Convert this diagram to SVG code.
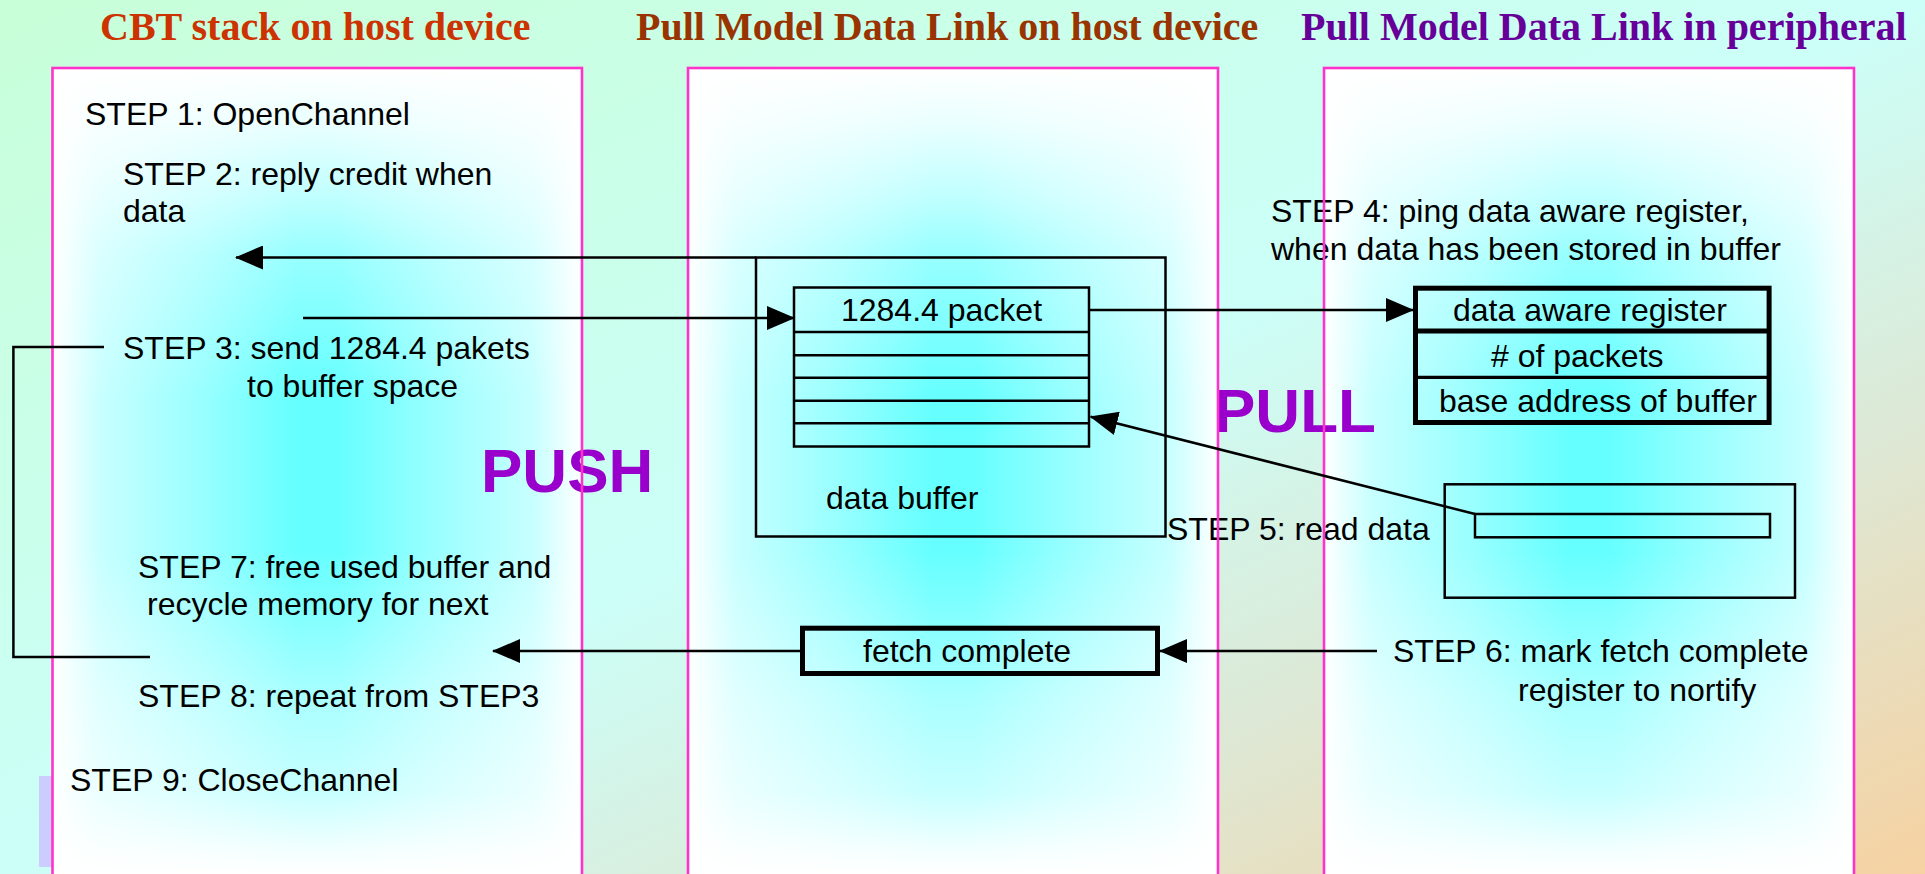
<svg xmlns="http://www.w3.org/2000/svg" width="1925" height="874" viewBox="0 0 1925 874">
  <defs>
    <linearGradient id="bg" x1="0" y1="0" x2="1" y2="1">
      <stop offset="0" stop-color="#c8ffd8"/>
      <stop offset="0.5" stop-color="#ccfff8"/>
      <stop offset="0.74" stop-color="#dde8d5"/>
      <stop offset="1" stop-color="#f6d2a2"/>
    </linearGradient>
    <linearGradient id="laneH" x1="0" y1="0" x2="1" y2="0">
      <stop offset="0" stop-color="#ffffff"/>
      <stop offset="0.09" stop-color="#c8ffff"/>
      <stop offset="0.28" stop-color="#99ffff"/>
      <stop offset="0.46" stop-color="#66ffff"/>
      <stop offset="0.54" stop-color="#66ffff"/>
      <stop offset="0.72" stop-color="#99ffff"/>
      <stop offset="0.91" stop-color="#c8ffff"/>
      <stop offset="1" stop-color="#ffffff"/>
    </linearGradient>
    <linearGradient id="laneV" x1="0" y1="0" x2="0" y2="1">
      <stop offset="0" stop-color="#ffffff" stop-opacity="1"/>
      <stop offset="0.07" stop-color="#ffffff" stop-opacity="0.86"/>
      <stop offset="0.16" stop-color="#ffffff" stop-opacity="0.59"/>
      <stop offset="0.23" stop-color="#ffffff" stop-opacity="0.33"/>
      <stop offset="0.41" stop-color="#ffffff" stop-opacity="0"/>
      <stop offset="0.6" stop-color="#ffffff" stop-opacity="0"/>
      <stop offset="0.78" stop-color="#ffffff" stop-opacity="0.44"/>
      <stop offset="0.9" stop-color="#ffffff" stop-opacity="0.64"/>
      <stop offset="0.97" stop-color="#ffffff" stop-opacity="0.92"/>
      <stop offset="1" stop-color="#ffffff" stop-opacity="1"/>
    </linearGradient>
    <marker id="arrow" viewBox="0 0 28 24" refX="27" refY="12" markerWidth="28" markerHeight="24" markerUnits="userSpaceOnUse" orient="auto">
      <path d="M0,0 L28,12 L0,24 z" fill="#000"/>
    </marker>
    <style>
      .title { font-family: "Liberation Serif", "Times New Roman", serif; font-weight: bold; font-size: 40px; }
      .t { font-family: "Liberation Sans", Arial, sans-serif; font-size: 32px; fill: #000; }
      .big { font-family: "Liberation Sans", Arial, sans-serif; font-weight: bold; font-size: 62px; fill: #9900cc; }
      .laneFill { stroke: none; }
      .laneBorder { fill: none; stroke: #ff33cc; stroke-width: 2.6; }
      .ln { fill: none; stroke: #000; stroke-width: 2.5; }
      .thick { fill: none; stroke: #000; stroke-width: 5; }
      .arr { fill: none; stroke: #000; stroke-width: 2.5; marker-end: url(#arrow); }
    </style>
  </defs>

  <rect x="0" y="0" width="1925" height="874" fill="url(#bg)"/>

  <!-- small lavender block bottom-left -->
  <rect x="39" y="776" width="30" height="91" fill="#ccccff"/>

  <!-- lane fills -->
  <g id="lane-cbt">
    <rect class="laneFill" x="52.5" y="68" width="529.5" height="806" fill="url(#laneH)"/>
    <rect class="laneFill" x="52.5" y="68" width="529.5" height="806" fill="url(#laneV)"/>
  </g>
  <g id="lane-host-link">
    <rect class="laneFill" x="688" y="68" width="530" height="806" fill="url(#laneH)"/>
    <rect class="laneFill" x="688" y="68" width="530" height="806" fill="url(#laneV)"/>
  </g>
  <g id="lane-peripheral">
    <rect class="laneFill" x="1324" y="68" width="530" height="806" fill="url(#laneH)"/>
    <rect class="laneFill" x="1324" y="68" width="530" height="806" fill="url(#laneV)"/>
  </g>

  <!-- titles -->
  <g id="titles">
    <text class="title" x="100" y="40" fill="#cc3300">CBT stack on host device</text>
    <text class="title" x="636" y="40" fill="#993300">Pull Model Data Link on host device</text>
    <text class="title" x="1301" y="40" fill="#660099">Pull Model Data Link in peripheral</text>
  </g>

  <!-- PUSH / PULL -->
  <g id="labels-push-pull">
    <text class="big" x="481" y="492">PUSH</text>
    <text class="big" x="1214" y="432">PULL</text>
  </g>

  <!-- step texts -->
  <g id="steps">
    <text class="t" x="85" y="125">STEP 1: OpenChannel</text>
    <text class="t" x="123" y="185">STEP 2: reply credit when</text>
    <text class="t" x="123" y="222">data</text>
    <text class="t" x="123" y="359">STEP 3: send 1284.4 pakets</text>
    <text class="t" x="247" y="397">to buffer space</text>
    <text class="t" x="138" y="578">STEP 7: free used buffer and</text>
    <text class="t" x="147" y="615">recycle memory for next</text>
    <text class="t" x="138" y="707">STEP 8: repeat from STEP3</text>
    <text class="t" x="70" y="791">STEP 9: CloseChannel</text>
    <text class="t" x="1271" y="222">STEP 4: ping data aware register,</text>
    <text class="t" x="1271" y="260">when data has been stored in buffer</text>
    <text class="t" x="1167" y="540">STEP 5: read data</text>
    <text class="t" x="1393" y="662">STEP 6: mark fetch complete</text>
    <text class="t" x="1518" y="701">register to nortify</text>
  </g>

  <!-- lane borders -->
  <g id="lane-borders">
    <rect class="laneBorder" x="52.5" y="68" width="529.5" height="830"/>
    <rect class="laneBorder" x="688" y="68" width="530" height="830"/>
    <rect class="laneBorder" x="1324" y="68" width="530" height="830"/>
  </g>

  <!-- data buffer on host -->
  <g id="data-buffer">
    <rect class="ln" x="756" y="257.5" width="409.5" height="279"/>
    <rect class="ln" x="794" y="287.5" width="295" height="159"/>
    <line class="ln" x1="794" y1="332" x2="1089" y2="332"/>
    <line class="ln" x1="794" y1="355.3" x2="1089" y2="355.3"/>
    <line class="ln" x1="794" y1="377.7" x2="1089" y2="377.7"/>
    <line class="ln" x1="794" y1="400.7" x2="1089" y2="400.7"/>
    <line class="ln" x1="794" y1="423.3" x2="1089" y2="423.3"/>
    <text class="t" x="941.5" y="321" text-anchor="middle">1284.4 packet</text>
    <text class="t" x="826" y="509">data buffer</text>
  </g>

  <!-- data aware register -->
  <g id="register">
    <rect class="thick" x="1415.5" y="288.2" width="353.6" height="134.3"/>
    <line class="thick" x1="1415.5" y1="331" x2="1769.1" y2="331"/>
    <line class="ln" x1="1415.5" y1="377.3" x2="1769.1" y2="377.3" style="stroke-width:3.2"/>
    <text class="t" x="1453" y="321">data aware register</text>
    <text class="t" x="1491" y="367"># of packets</text>
    <text class="t" x="1439" y="412">base address of buffer</text>
  </g>

  <!-- peripheral buffer -->
  <g id="peripheral-buffer">
    <rect class="ln" x="1444.7" y="484.3" width="350.3" height="113.4"/>
    <rect class="ln" x="1475" y="514" width="295" height="23.3"/>
  </g>

  <!-- fetch complete -->
  <g id="fetch-complete">
    <rect class="thick" x="802.5" y="628.2" width="355" height="45.3"/>
    <text class="t" x="863" y="662">fetch complete</text>
  </g>

  <!-- connectors -->
  <g id="connectors">
    <line class="arr" x1="756" y1="257.5" x2="236" y2="257.5"/>
    <line class="arr" x1="303" y1="318" x2="794" y2="318"/>
    <line class="arr" x1="1089" y1="310" x2="1413" y2="310"/>
    <line class="arr" x1="1475" y1="514" x2="1090.7" y2="416.7"/>
    <line class="arr" x1="800" y1="651" x2="493" y2="651"/>
    <line class="arr" x1="1377" y1="651" x2="1160" y2="651"/>
    <polyline class="ln" points="104,347 13.4,347 13.4,657 150,657"/>
  </g>
</svg>
